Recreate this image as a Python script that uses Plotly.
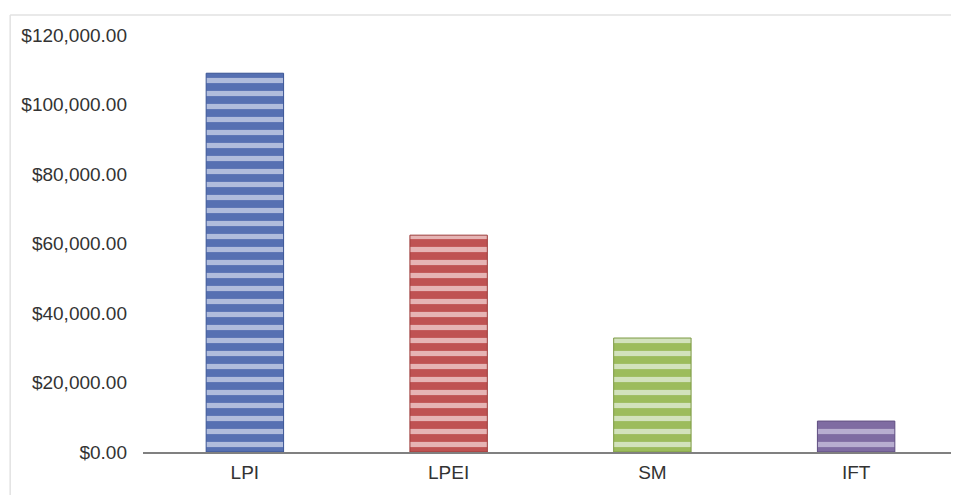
import plotly.graph_objects as go

categories = ["LPI", "LPEI", "SM", "IFT"]
values = [109000, 62400, 32800, 8900]
bar_colors = ["#5670b2", "#bf5252", "#9cbc5c", "#7f6ca2"]
stripe_colors = ["#b0bcdc", "#e6b4b4", "#d2e2bc", "#b8aed0"]
edge_colors = ["#3a5494", "#9c3c3a", "#7d9a44", "#5e4c80"]
tick_values = [0, 20000, 40000, 60000, 80000, 100000, 120000]

fig = go.Figure()
for cat, val, col, stripe, edge in zip(categories, values, bar_colors, stripe_colors, edge_colors):
    fig.add_trace(go.Bar(
        x=[cat],
        y=[val],
        width=0.38,
        marker=dict(
            color=col,
            line=dict(color=edge, width=1),
            pattern=dict(shape="-", fgcolor=stripe, bgcolor=col,
                         size=13, solidity=0.4, fillmode="replace"),
        ),
        showlegend=False,
    ))

font = dict(family="Liberation Sans, Arial, sans-serif", size=19, color="#333333")

fig.update_layout(
    width=951, height=487,
    margin=dict(l=135, r=1, t=27, b=43),
    barmode="overlay",
    paper_bgcolor="white",
    plot_bgcolor="white",
    font=font,
    xaxis=dict(
        categoryorder="array", categoryarray=categories,
        showgrid=False, zeroline=False,
        showline=True, linecolor="#808080", linewidth=1.5,
        ticks="", ticklabelstandoff=2,
        tickfont=font,
    ),
    yaxis=dict(
        range=[0, 120000],
        tickvals=tick_values,
        tickformat="$,.2f",
        showgrid=False, zeroline=False, showline=False,
        ticks="", ticklabelstandoff=15,
        tickfont=font,
    ),
    shapes=[
        dict(type="line", xref="paper", yref="paper",
             x0=-0.163, x1=1.01, y0=1.048, y1=1.048,
             line=dict(color="#e2e2e2", width=1.5)),
        dict(type="line", xref="paper", yref="paper",
             x0=-0.163, x1=-0.163, y0=1.048, y1=-0.2,
             line=dict(color="#e2e2e2", width=1.5)),
    ],
)

fig.write_html("out.html")
